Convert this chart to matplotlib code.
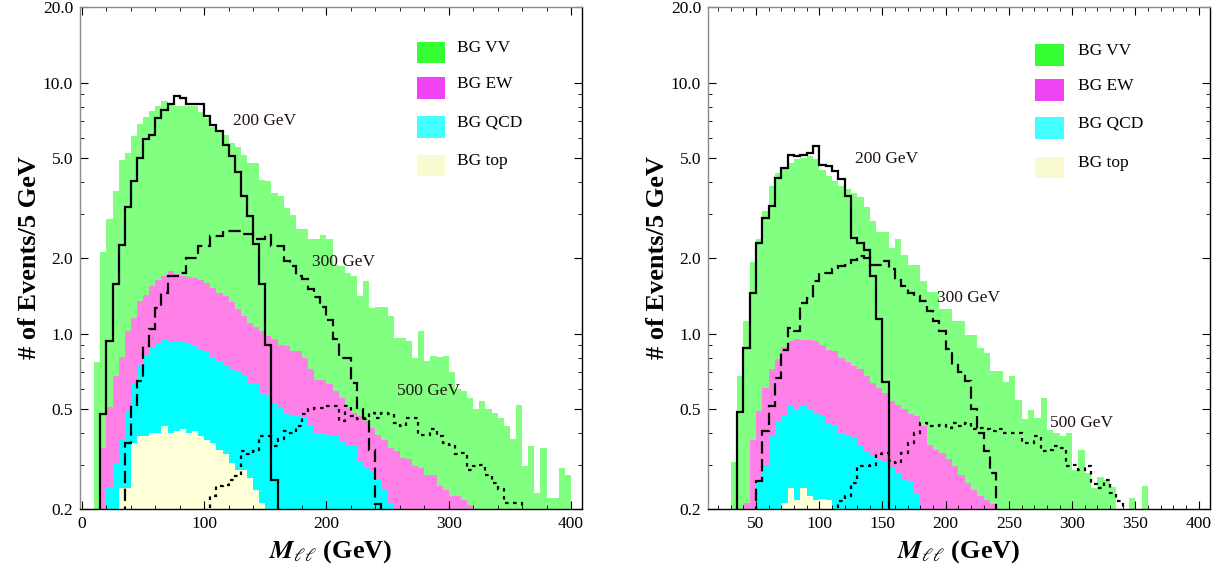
import numpy as np
import matplotlib
matplotlib.use("Agg")
import matplotlib.pyplot as plt
from matplotlib.ticker import FixedLocator, FixedFormatter, LogLocator, MultipleLocator, NullFormatter
from matplotlib.patches import Rectangle

plt.rcParams['font.family'] = ['Liberation Serif', 'DejaVu Serif']
plt.rcParams['mathtext.fontset'] = 'stix'

# ---------------- data (5 GeV bins from 0 to 400 GeV) ----------------
bin_edges = np.arange(0, 405, 5)
NBINS = len(bin_edges) - 1

# left panel: visible top edge of each stacked layer
left_total_start, left_total = 0, [
    0, 0, 0.77, 2.12, 2.85, 3.69, 4.93, 5.25, 6.11, 6.84,
    7.3, 7.73, 8.05, 8.43, 8.3, 8.1, 8.1, 8.1, 8.05, 7.6,
    7.2, 6.65, 6.5, 6.2, 5.75, 5.55, 5.15, 4.8, 4.8, 4.1,
    4.05, 3.64, 3.53, 3.17, 2.98, 2.6, 2.6, 2.37, 2.37, 2.48,
    2.37, 1.88, 1.85, 1.745, 1.7, 1.41, 1.62, 1.27, 1.28, 1.28,
    1.17, 0.96, 0.96, 0.93, 0.8, 1.02, 0.776, 0.817, 0.81, 0.817,
    0.70, 0.60, 0.59, 0.554, 0.50, 0.537, 0.50, 0.483, 0.461, 0.43,
    0.379, 0.521, 0.296, 0.356, 0.231, 0.35, 0.221, 0.221, 0.292, 0.272]
left_ew_start, left_ew = 3, [
    0.35, 0.51, 0.68, 0.81, 1.02, 1.15, 1.35,
    1.43, 1.54, 1.64, 1.69, 1.77, 1.72, 1.70, 1.68, 1.67, 1.64,
    1.59, 1.52, 1.45, 1.41, 1.33, 1.25, 1.17, 1.10, 1.06, 1.02,
    0.98, 0.95, 0.90, 0.89, 0.85, 0.85, 0.80, 0.72, 0.656, 0.656,
    0.627, 0.589, 0.554, 0.506, 0.483, 0.469, 0.448, 0.421, 0.396, 0.378,
    0.35, 0.34, 0.32, 0.315, 0.296, 0.292, 0.274, 0.274, 0.246, 0.239,
    0.225, 0.225, 0.218, 0.208]
left_qcd_start, left_qcd = 4, [
    0.243, 0.305, 0.378, 0.49, 0.627, 0.74,
    0.82, 0.877, 0.918, 0.946, 0.935, 0.935, 0.925, 0.918, 0.90, 0.87,
    0.85, 0.81, 0.776, 0.74, 0.72, 0.71, 0.676, 0.636, 0.627, 0.58,
    0.57, 0.53, 0.506, 0.478, 0.47, 0.47, 0.46, 0.43, 0.40, 0.40,
    0.39, 0.39, 0.37, 0.36, 0.36, 0.31, 0.29, 0.283, 0.262, 0.24,
    0.21]
left_top_start, left_top = 6, [
    0.243, 0.243, 0.367, 0.39,
    0.39, 0.40, 0.40, 0.43, 0.40, 0.41, 0.415, 0.40, 0.41, 0.39,
    0.378, 0.367, 0.345, 0.33, 0.305, 0.287, 0.287, 0.266, 0.239, 0.211]
left_sig200_start, left_sig200 = 3, [
    0.48, 0.93, 1.57, 2.26, 3.2, 4.05, 5.0,
    5.97, 6.2, 7.23, 7.8, 8.24, 8.87, 8.7, 8.24, 8.24, 8.24,
    7.39, 6.8, 6.44, 5.66, 5.09, 4.40, 3.52, 2.94, 2.28, 1.57,
    0.90, 0.26]
left_sig300_start, left_sig300 = 7, [
    0.366, 0.52, 0.645,
    0.89, 1.04, 1.27, 1.45, 1.69, 1.69, 1.75, 2.0, 2.0, 2.23,
    2.23, 2.44, 2.44, 2.57, 2.57, 2.56, 2.5, 2.5, 2.38, 2.38,
    2.48, 2.23, 2.23, 1.95, 1.85, 1.7, 1.65, 1.5, 1.4, 1.28,
    1.13, 0.95, 0.80, 0.80, 0.635, 0.50, 0.46, 0.345, 0.21]
left_sig500_start, left_sig500 = 21, [
    0.225, 0.246, 0.25, 0.26, 0.27, 0.34, 0.33, 0.34, 0.39,
    0.39, 0.356, 0.38, 0.41, 0.40, 0.43, 0.478, 0.50, 0.506, 0.506,
    0.513, 0.513, 0.448, 0.513, 0.469, 0.455, 0.455, 0.483, 0.462, 0.483,
    0.478, 0.441, 0.428, 0.462, 0.462, 0.396, 0.396, 0.415, 0.39, 0.366,
    0.361, 0.33, 0.333, 0.287, 0.296, 0.30, 0.274, 0.254, 0.24, 0.211,
    0.211, 0.211]

# right panel
right_total_start, right_total = 6, [
    0.307, 0.676, 1.12, 1.93,
    2.37, 3.07, 3.86, 4.37, 4.57, 4.79, 4.94, 5.0, 5.09, 4.94,
    4.5, 4.24, 4.05, 3.86, 3.75, 3.64, 3.5, 3.2, 2.8, 2.54,
    2.54, 2.19, 2.37, 2.05, 1.88, 1.88, 1.62, 1.47, 1.47, 1.25,
    1.25, 1.12, 1.12, 0.99, 0.99, 0.877, 0.84, 0.708, 0.708, 0.641,
    0.68, 0.546, 0.457, 0.495, 0.461, 0.554, 0.414, 0.40, 0.39, 0.402,
    0.287, 0.345, 0.279, 0.243, 0.268, 0.26, 0.245, 0, 0, 0.221,
    0, 0.246]
right_ew_start, right_ew = 8, [
    0.212, 0.378,
    0.49, 0.608, 0.72, 0.79, 0.885, 0.93, 0.955, 0.946, 0.94, 0.93,
    0.90, 0.863, 0.85, 0.80, 0.77, 0.74, 0.72, 0.676, 0.636, 0.608,
    0.58, 0.537, 0.52, 0.50, 0.48, 0.469, 0.428, 0.361, 0.345, 0.335,
    0.315, 0.296, 0.274, 0.254, 0.239, 0.226, 0.218, 0.21]
right_qcd_start, right_qcd = 10, [
    0.26, 0.30, 0.39, 0.448, 0.469, 0.516, 0.50, 0.516, 0.50, 0.483,
    0.469, 0.441, 0.434, 0.402, 0.396, 0.384, 0.361, 0.34, 0.325, 0.315,
    0.31, 0.29, 0.275, 0.262, 0.258, 0.232]
right_top_start, right_top = 14, [
    0.211, 0.243, 0.218, 0.243, 0.225, 0.218, 0.219, 0.218]
right_sig200_start, right_sig200 = 7, [
    0.486, 0.877, 1.45,
    2.30, 2.89, 3.21, 4.17, 4.57, 5.16, 5.1, 5.16, 5.25, 5.57,
    4.71, 4.65, 4.43, 4.11, 3.52, 2.40, 2.30, 2.16, 1.69, 1.14,
    0.64]
right_sig300_start, right_sig300 = 10, [
    0.258, 0.408, 0.514, 0.666, 0.863, 1.05, 1.02, 1.32, 1.39, 1.62,
    1.74, 1.75, 1.8, 1.85, 1.88, 1.97, 2.03, 2.0, 1.88, 1.88,
    1.94, 1.80, 1.64, 1.55, 1.45, 1.41, 1.35, 1.23, 1.12, 1.02,
    0.87, 0.75, 0.70, 0.645, 0.50, 0.40, 0.34, 0.279]
right_sig500_start, right_sig500 = 23, [
    0.215, 0.225, 0.254, 0.296, 0.296, 0.30, 0.33,
    0.335, 0.31, 0.305, 0.335, 0.366, 0.401, 0.441, 0.428, 0.428, 0.434,
    0.42, 0.441, 0.428, 0.441, 0.415, 0.42, 0.415, 0.41, 0.415, 0.40,
    0.40, 0.40, 0.366, 0.366, 0.39, 0.34, 0.345, 0.355, 0.35, 0.296,
    0.30, 0.287, 0.296, 0.252, 0.243, 0.262, 0.232, 0.215]

legend_labels = ['BG VV', 'BG EW', 'BG QCD', 'BG top']
signal_labels = ['200 GeV', '300 GeV', '500 GeV']
y_ticks = [0.2, 0.5, 1.0, 2.0, 5.0, 10.0, 20.0]
y_tick_labels = ['0.2', '0.5', '1.0', '2.0', '5.0', '10.0', '20.0']

# ---------------- styling ----------------
fill_colors = ['#80ff80', '#ff80e6', '#00ffff', '#ffffd8']
swatch_colors = ['#33ff33', '#f044f4', '#44ffff', '#fafad0']
FLOOR = 1e-3


def place(start, values):
    arr = np.zeros(NBINS)
    arr[start:start + len(values)] = values
    return arr


def draw_panel(ax, layers, signals, xlim, xmajor, xminor, sig_pos, leg):
    ax.set_yscale('log')
    for (start, vals), col in zip(layers, fill_colors):
        v = np.clip(place(start, vals), FLOOR, None)
        ax.stairs(v, bin_edges, fill=True, baseline=FLOOR, color=col, lw=0, zorder=1)
    styles = ['-', (0, (5.5, 2.5)), (0, (1.6, 2.0))]
    for (start, vals), ls in zip(signals, styles):
        v = np.clip(place(start, vals), FLOOR, None)
        ax.stairs(v, bin_edges, baseline=None, color='black', lw=1.6,
                  linestyle=ls, zorder=3)
    ax.set_xlim(*xlim)
    ax.set_ylim(0.2, 20)
    ax.yaxis.set_major_locator(FixedLocator(y_ticks))
    ax.yaxis.set_major_formatter(FixedFormatter(y_tick_labels))
    ax.yaxis.set_minor_locator(LogLocator(base=10, subs=np.arange(2, 10) * 1.0, numticks=20))
    ax.yaxis.set_minor_formatter(NullFormatter())
    ax.xaxis.set_major_locator(MultipleLocator(xmajor))
    ax.xaxis.set_minor_locator(MultipleLocator(xminor))
    ax.tick_params(which='both', direction='in', top=True, right=True,
                   labelsize=12.5, colors='black')
    ax.tick_params(which='major', length=6, width=0.8, pad=5)
    ax.tick_params(which='minor', length=3, width=0.6)
    for side in ['left', 'top']:
        ax.spines[side].set_color('#8a8a8a')
    for side in ['right', 'bottom']:
        ax.spines[side].set_color('black')
    for s in ax.spines.values():
        s.set_linewidth(1.0)
    ax.set_ylabel('# of Events/5 GeV', fontsize=19, fontweight='bold')
    ax.yaxis.set_label_coords(-0.078, 0.5)
    ax.set_xlabel(r'$\mathbfit{M}_{\ell\ell}$ (GeV)', fontsize=19, fontweight='bold')
    ax.xaxis.set_label_coords(0.5, -0.058)
    for (x, y), lab in zip(sig_pos, signal_labels):
        ax.text(x, y, lab, fontsize=12.5, ha='left', va='center', color='#221111', zorder=4)
    sx, tx, ys, h, w = leg
    for y0, col, lab in zip(ys, swatch_colors, legend_labels):
        ax.add_patch(Rectangle((sx, y0), w, h, transform=ax.transAxes,
                               facecolor=col, edgecolor='none', zorder=5))
        ax.text(tx, y0 + h / 2 + 0.008, lab, transform=ax.transAxes,
                fontsize=12.5, ha='left', va='center', zorder=5)


fig = plt.figure(figsize=(12.25, 5.71), dpi=100)
W, H = 1225.0, 571.0
axL = fig.add_axes([80 / W, 1 - 509 / H, 502 / W, 502 / H])
axR = fig.add_axes([708 / W, 1 - 509 / H, 502 / W, 502 / H])

draw_panel(
    axL,
    [(left_total_start, left_total), (left_ew_start, left_ew),
     (left_qcd_start, left_qcd), (left_top_start, left_top)],
    [(left_sig200_start, left_sig200), (left_sig300_start, left_sig300),
     (left_sig500_start, left_sig500)],
    (-1.6, 409), 100, 20,
    [(123.5, 7.0), (188, 1.92), (257.5, 0.59)],
    (0.671, 0.751, [0.888, 0.817, 0.740, 0.663], 0.043, 0.056))

draw_panel(
    axR,
    [(right_total_start, right_total), (right_ew_start, right_ew),
     (right_qcd_start, right_qcd), (right_top_start, right_top)],
    [(right_sig200_start, right_sig200), (right_sig300_start, right_sig300),
     (right_sig500_start, right_sig500)],
    (12, 409), 50, 10,
    [(128.3, 4.97), (192.8, 1.39), (282.4, 0.44)],
    (0.651, 0.737, [0.883, 0.813, 0.738, 0.659], 0.043, 0.058))

fig.savefig('out.png', dpi=100)
